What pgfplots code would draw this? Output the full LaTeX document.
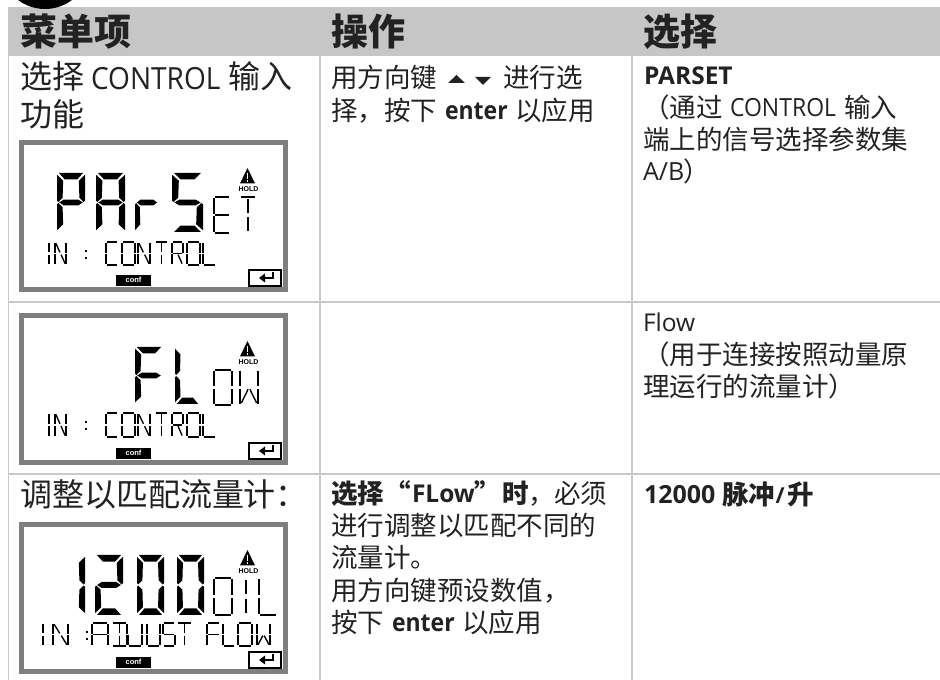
\documentclass[border=0pt]{standalone}
\usepackage{fontspec}
\usepackage{pgfplots}
\pgfplotsset{compat=1.18}
\setmainfont{Open Sans}
\newfontfamily\cjk{Noto Sans CJK SC}
\newfontfamily\arial{Liberation Sans}
\newfontfamily\lat[FakeStretch=0.92]{Open Sans}
\definecolor{band}{HTML}{C6C6C6}
\definecolor{rule}{HTML}{CACACA}
\definecolor{txt}{HTML}{222222}
\definecolor{lcdg}{HTML}{7F7F7F}
% text helpers
\newcommand\T[3]{\node[anchor=base west,inner sep=0pt,outer sep=0pt,text=txt] at (#1,#2) {#3};}
\newcommand\hd[1]{\fontsize{37}{37}\selectfont\cjk\bfseries #1}
\newcommand\tbig[1]{\fontsize{32}{32}\selectfont\cjk #1}
\newcommand\tbigl[1]{\fontsize{30.5}{30.5}\selectfont\lat #1}
\newcommand\bd[1]{\fontsize{26.5}{26.5}\selectfont\cjk #1}
\newcommand\bdb[1]{\fontsize{26.5}{26.5}\selectfont\cjk\bfseries #1}
\newcommand\la[1]{\fontsize{25}{25}\selectfont\lat #1}
\newcommand\lb[1]{\fontsize{24.5}{24.5}\selectfont\bfseries #1}
\newcommand\lbe[1]{\fontsize{25}{25}\selectfont\lat\bfseries #1}
% big tapered segments, unit square
\def\Ba{\fill (.07,0)--(.93,0)--(.72,.11)--(.28,.11)--cycle;}
\def\Bd{\fill (.07,1)--(.93,1)--(.72,.89)--(.28,.89)--cycle;}
\def\Bf{\fill (0,.03)--(.22,.13)--(.20,.42)--(.05,.49)--(0,.47)--cycle;}
\def\Be{\fill (0,.97)--(.22,.87)--(.20,.58)--(.05,.51)--(0,.53)--cycle;}
\def\Bb{\fill (1,.03)--(.78,.13)--(.80,.42)--(.95,.49)--(1,.47)--cycle;}
\def\Bc{\fill (1,.97)--(.78,.87)--(.80,.58)--(.95,.51)--(1,.53)--cycle;}
\def\Bg{\fill (.08,.5)--(.24,.45)--(.76,.45)--(.92,.5)--(.76,.55)--(.24,.55)--cycle;}
% thin segments, unit square
\def\Sa{\draw (.06,0)--(.94,0);}
\def\Sb{\draw (1,.04)--(1,.46);}
\def\Sc{\draw (1,.54)--(1,.96);}
\def\Sd{\draw (.06,1)--(.94,1);}
\def\Se{\draw (0,.54)--(0,.96);}
\def\Sf{\draw (0,.04)--(0,.46);}
\def\Sg{\draw (.08,.5)--(.92,.5);}
\def\Su{\draw (.5,.06)--(.5,.44);}
\def\Sv{\draw (.5,.56)--(.5,.94);}
\def\Sp{\draw (.08,.06)--(.45,.45);}
\def\Sq{\draw (.45,.55)--(.08,.94);}
\def\Sr{\draw (.55,.55)--(.92,.94);}
\def\Ss{\draw (.55,.45)--(.92,.06);}
\newcommand\G[5]{\begin{scope}[shift={(#1,#2)},x=#3pt,y=-#4pt,line width=1.35pt,line cap=butt]#5\end{scope}}
\def\LA{\Sa\Sb\Sc\Se\Sf\Sg}
\def\LC{\Sa\Sf\Se\Sd}
\def\LD{\Sa\Sb\Sc\Sd\Su\Sv}
\def\LE{\Sa\Sf\Se\Sd\Sg}
\def\LF{\Sa\Sf\Se\Sg}
\def\LI{\Su\Sv}
\def\LJ{\Sb\Sc\Sd\Se}
\def\LL{\Sf\Se\Sd}
\def\LN{\Sf\Se\Sb\Sc\Sp\Sr}
\def\LO{\Sa\Sb\Sc\Sd\Se\Sf}
\def\LR{\Sa\Sb\Sf\Se\Sg\Sr}
\def\LS{\Sa\Sf\Sg\Sc\Sd}
\def\LT{\Sa\Su\Sv}
\def\LU{\Sb\Sc\Sd\Se\Sf}
\def\LW{\Sf\Se\Sb\Sc\Sq\Sr}
\newcommand\Coln[2]{\fill (#1,#2+8) rectangle +(2,2);\fill (#1,#2+15) rectangle +(2,2);}
% LCD shell: local origin top-left of the grey frame
\newcommand\LCD[3]{\begin{scope}[shift={(#1,#2)}]
  \fill[lcdg] (0,0) rectangle (269,152);
  \fill[white] (5,5) rectangle (264,147);
  \fill (228.5,28)--(221,43.5)--(236,43.5)--cycle;
  \fill[white] (227.8,33) rectangle (229.2,39);
  \fill[white] (227.8,40) rectangle (229.2,41.8);
  \node[inner sep=0pt] at (229.5,49.5) {\fontsize{7}{7}\selectfont\arial\bfseries HOLD};
  \fill (97,135) rectangle (132,146);
  \node[inner sep=0pt,text=white] at (114.5,139.8) {\fontsize{7.5}{7.5}\selectfont\arial\bfseries conf};
  \draw[line width=1.3pt,fill=white] (230,130) rectangle (262,146);
  \draw[line width=1.8pt] (245,138) -- (254,138) -- (254,132);
  \fill (240,138) -- (246,133.5) -- (246,142.5) -- cycle;
  #3
\end{scope}}
\begin{document}
\begin{tikzpicture}
\path[use as bounding box] (0,0) rectangle (940pt,680pt);
\begin{axis}[at={(0,0)},anchor=south west,scale only axis,width=940pt,height=680pt,
  xmin=0,xmax=940,ymin=0,ymax=680,y dir=reverse,hide axis]
\addplot[draw=none,fill=band] coordinates {(8,7)(940,7)(940,56)(8,56)} -- cycle;
\addplot[rule,line width=1.5pt] coordinates {(8.7,56)(8.7,680)};
\addplot[rule,line width=1.5pt] coordinates {(320,56)(320,680)};
\addplot[rule,line width=1.5pt] coordinates {(632,56)(632,680)};
\addplot[rule,line width=2pt] coordinates {(8,302)(940,302)};
\addplot[rule,line width=2pt] coordinates {(8,474)(940,474)};
\end{axis}
\begin{scope}[x=1pt,y=-1pt,shift={(0pt,680pt)}]
\begin{scope}
\clip (0,0) rectangle (940,680);
\fill (45,-36) circle (45);
\end{scope}
% headers
\T{20}{46}{\hd{菜单项}}
\T{331}{46}{\hd{操作}}
\T{643}{46}{\hd{选择}}
% column 1
\T{20}{89}{\tbig{选择}}
\T{91}{90}{\tbigl{CONTROL}}
\T{228}{89}{\tbig{输入}}
\T{20}{127}{\tbig{功能}}
\T{20}{507}{\tbig{调整以匹配流量计：}}
% column 2
\T{331}{88}{\bd{用方向键}}
\fill[txt] (456.5,75) -- (448,83) -- (465,83) -- cycle;
\fill[txt] (483,85) -- (475,77) -- (491,77) -- cycle;
\T{503}{88}{\bd{进行选}}
\T{331}{120.5}{\bd{择，按下}}
\T{445}{120}{\lbe{enter}}
\T{515}{120.5}{\bd{以应用}}
\T{331}{503.5}{\bdb{选择}}
\T{384}{503.5}{\bdb{“}}
\T{412}{503}{\lb{FLow}}
\T{474}{503.5}{\bdb{”}}
\T{502}{503.5}{\bdb{时}}
\T{528}{503.5}{\bd{，}}
\T{554}{503.5}{\bd{必须}}
\T{331}{535.5}{\bd{进行调整以匹配不同的}}
\T{331}{568}{\bd{流量计。}}
\T{331}{600.5}{\bd{用方向键预设数值，}}
\T{331}{632.5}{\bd{按下}}
\T{392}{632}{\lbe{enter}}
\T{462}{632.5}{\bd{以应用}}
% column 3
\T{644}{85}{\lb{PARSET}}
\T{643}{117.5}{\bd{（通过}}
\T{730}{117}{\la{CONTROL}}
\T{844}{117.5}{\bd{输入}}
\T{643}{149.5}{\bd{端上的信号选择参数集}}
\T{643}{181}{\fontsize{25}{25}\selectfont A/B}
\T{683}{181.5}{\bd{）}}
\T{643}{332}{\fontsize{24.5}{24.5}\selectfont Flow}
\T{643}{364.5}{\bd{（用于连接按照动量原}}
\T{643}{396.5}{\bd{理运行的流量计）}}
\T{644}{504}{\fontsize{25}{25}\selectfont\bfseries 12000}
\T{722}{504.5}{\bdb{脉冲}}
\T{775.5}{504}{\fontsize{22}{22}\selectfont\bfseries /}
\T{787}{504.5}{\bdb{升}}
% LCD 1
\LCD{19}{140}{%
 \G{38}{33}{28}{59}{\Ba\Bb\Bf\Be\Bg}
 \G{77}{33}{29}{59}{\Ba\Bb\Bc\Be\Bf\Bg}
 \G{116}{33}{24}{59}{\Be\Bg}
 \G{153}{33}{31}{59}{\Ba\Bf\Bg\Bc\Bd}
 \G{195}{57}{16}{36}{\LE}
 \G{221}{57}{16}{36}{\LT}
 \G{24}{102}{12}{23}{\LI}
 \G{36}{102}{11}{23}{\LN}
 \Coln{66}{102}
 \G{87}{102}{12}{23}{\LC}
 \G{103}{102}{13}{23}{\LO}
 \G{119}{102}{12}{23}{\LN}
 \G{136}{102}{13}{23}{\LT}
 \G{153}{102}{11}{23}{\LR}
 \G{168}{102}{13}{23}{\LO}
 \G{184}{102}{13}{23}{\LL}
}
% LCD 2
\LCD{19}{313}{%
 \G{116}{34}{28}{57}{\Ba\Bf\Be\Bg}
 \G{156}{34}{25}{57}{\Bf\Be\Bd}
 \G{195}{57}{18}{35}{\LO}
 \G{221}{57}{18}{35}{\LW}
 \G{24}{100}{12}{24}{\LI}
 \G{36}{100}{11}{24}{\LN}
 \Coln{66}{100}
 \G{87}{100}{12}{24}{\LC}
 \G{103}{100}{13}{24}{\LO}
 \G{119}{100}{12}{24}{\LN}
 \G{136}{100}{13}{24}{\LT}
 \G{153}{100}{11}{24}{\LR}
 \G{168}{100}{13}{24}{\LO}
 \G{184}{100}{13}{24}{\LL}
}
% LCD 3
\LCD{19}{522}{%
 \G{38}{33}{28}{60}{\Bb\Bc}
 \G{76}{33}{28}{60}{\Ba\Bb\Bg\Be\Bd}
 \G{118}{33}{27}{60}{\Ba\Bb\Bc\Bd\Be\Bf}
 \G{158}{33}{27}{60}{\Ba\Bb\Bc\Bd\Be\Bf}
 \G{195}{56}{18}{37}{\LO}
 \G{221}{56}{12}{37}{\LI}
 \G{240}{56}{18}{37}{\LL}
 \G{18}{101}{12}{23}{\LI}
 \G{34}{101}{15}{23}{\LN}
 \Coln{67}{101}
 \G{73}{101}{16}{23}{\LA}
 \G{93}{101}{15}{23}{\LD}
 \G{109}{101}{14}{23}{\LJ}
 \G{128}{101}{13}{23}{\LU}
 \G{144}{101}{12}{23}{\LS}
 \G{158}{101}{15}{23}{\LT}
 \G{188}{101}{13}{23}{\LF}
 \G{204}{101}{12}{23}{\LL}
 \G{219}{101}{14}{23}{\LO}
 \G{238}{101}{13}{23}{\LW}
}
\end{scope}
\end{tikzpicture}
\end{document}
